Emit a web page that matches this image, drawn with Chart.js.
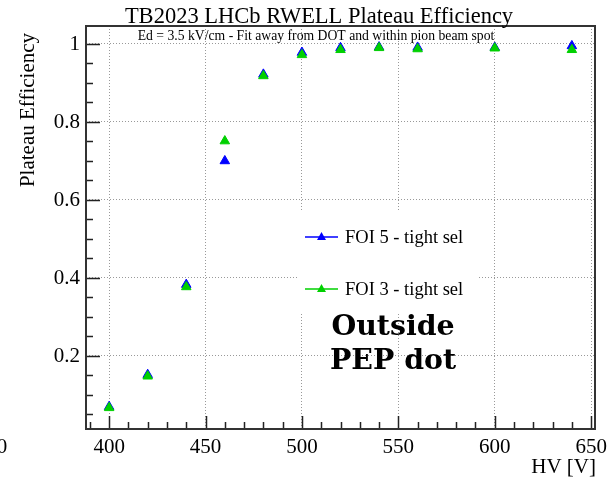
<!DOCTYPE html>
<html>
<head>
<meta charset="utf-8">
<script src="https://cdn.jsdelivr.net/npm/chart.js@4/dist/chart.umd.min.js"></script>
<style>
  html, body { margin: 0; padding: 0; background: #fff; }
  #wrap { width: 611px; height: 479px; }
</style>
</head>
<body>
<div id="wrap"><canvas id="plateau-chart" width="611" height="479"></canvas></div>
<script>
// HV scan points
const hvValues = [400, 420, 440, 460, 480, 500, 520, 540, 560, 600, 640];
const effFoi5 = [0.070, 0.152, 0.383, 0.700, 0.922, 0.978, 0.990, 0.992, 0.991, 0.991, 0.995];
const effFoi3 = [0.067, 0.148, 0.377, 0.751, 0.918, 0.972, 0.985, 0.990, 0.987, 0.989, 0.985];

const xTicks = [400, 450, 500, 550, 600, 650];
const yTicks = [0.2, 0.4, 0.6, 0.8, 1];
const yTickLabels = ['0.2', '0.4', '0.6', '0.8', '1'];

const seriesNames = ['FOI 5 - tight sel', 'FOI 3 - tight sel'];
const chartTitle = 'TB2023 LHCb RWELL Plateau Efficiency';
const subTitle = 'Ed = 3.5 kV/cm - Fit away from DOT and within pion beam spot';
const noteLines = ['Outside', 'PEP dot'];

const BLUE = '#0000ff';
const GREEN = '#00d000';
const SERIF = '"Liberation Serif", "Times New Roman", serif';

function toPoints(xs, ys) {
    return xs.map((x, i) => ({ x: x, y: ys[i] }));
}

// draws the ROOT-like frame, ticks, labels, legend and texts
const rootStyle = {
    id: 'rootStyle',
    beforeDatasetsDraw(chart) {
        const ctx = chart.ctx;
        // legend box hides the grid
        ctx.save();
        ctx.fillStyle = '#fff';
        ctx.fillRect(297, 210, 180, 103);
        ctx.restore();
    },
    afterDatasetsDraw(chart) {
        const ctx = chart.ctx;
        const a = chart.chartArea;
        const xs = chart.scales.x;
        const ys = chart.scales.y;
        ctx.save();

        // ticks
        ctx.strokeStyle = '#222';
        ctx.lineWidth = 1.5;
        ctx.beginPath();
        for (let v = 390; v <= 650; v += 10) {
            const px = Math.round(xs.getPixelForValue(v)) + 0.5;
            const len = (v % 50 === 0) ? 13 : 7;
            ctx.moveTo(px, a.bottom);
            ctx.lineTo(px, a.bottom - len);
        }
        for (let k = 1; k <= 20; k++) {
            const v = k * 0.05;
            const py = Math.round(ys.getPixelForValue(v)) + 0.5;
            const len = (k % 4 === 0) ? 14 : 7;
            ctx.moveTo(a.left, py);
            ctx.lineTo(a.left + len, py);
        }
        ctx.stroke();

        // frame
        ctx.lineWidth = 2;
        ctx.strokeStyle = '#333';
        ctx.strokeRect(a.left, a.top, a.right - a.left, a.bottom - a.top);

        // tick labels
        ctx.fillStyle = '#000';
        ctx.font = '21px ' + SERIF;
        ctx.textAlign = 'center';
        ctx.textBaseline = 'middle';
        xTicks.forEach(v => {
            ctx.fillText(String(v), xs.getPixelForValue(v), 447);
        });
        ctx.fillText('0', 2, 447);
        ctx.textAlign = 'right';
        yTicks.forEach((v, i) => {
            ctx.fillText(yTickLabels[i], 80, ys.getPixelForValue(v) + 1);
        });

        // axis titles
        ctx.textAlign = 'right';
        ctx.fillText('HV [V]', 596, 467);
        ctx.save();
        ctx.translate(28, 110);
        ctx.rotate(-Math.PI / 2);
        ctx.textAlign = 'center';
        ctx.fillText('Plateau Efficiency', 0, 0);
        ctx.restore();

        // titles
        ctx.textAlign = 'center';
        ctx.font = '22.5px ' + SERIF;
        ctx.fillText(chartTitle, 319, 17);
        ctx.font = '13.7px ' + SERIF;
        ctx.fillText(subTitle, 316, 36);

        // legend
        const legendRows = [{ y: 237, c: BLUE }, { y: 289, c: GREEN }];
        ctx.font = '18.5px ' + SERIF;
        ctx.textAlign = 'left';
        legendRows.forEach((r, i) => {
            ctx.strokeStyle = r.c;
            ctx.lineWidth = 1.5;
            ctx.beginPath();
            ctx.moveTo(305, r.y);
            ctx.lineTo(338, r.y);
            ctx.stroke();
            ctx.fillStyle = r.c;
            ctx.beginPath();
            ctx.moveTo(321.5, r.y - 5);
            ctx.lineTo(326, r.y + 3);
            ctx.lineTo(317, r.y + 3);
            ctx.closePath();
            ctx.fill();
            ctx.fillStyle = '#000';
            ctx.fillText(seriesNames[i], 345, r.y + 1);
        });

        // note
        ctx.font = 'bold 28.4px "DejaVu Serif", serif';
        ctx.textAlign = 'center';
        ctx.fillText(noteLines[0], 393, 328);
        ctx.fillText(noteLines[1], 393, 362);

        ctx.restore();
    }
};

const ctx = document.getElementById('plateau-chart').getContext('2d');
new Chart(ctx, {
    type: 'scatter',
    data: {
        datasets: [{
            label: seriesNames[0],
            data: toPoints(hvValues, effFoi5),
            pointStyle: 'triangle',
            pointRadius: 5.5,
            backgroundColor: BLUE,
            borderColor: BLUE,
            borderWidth: 1,
            order: 1
        }, {
            label: seriesNames[1],
            data: toPoints(hvValues, effFoi3),
            pointStyle: 'triangle',
            pointRadius: 5.5,
            backgroundColor: GREEN,
            borderColor: GREEN,
            borderWidth: 1,
            order: 0
        }]
    },
    options: {
        responsive: false,
        animation: false,
        devicePixelRatio: 1,
        layout: { padding: { left: 86, top: 26, right: 16, bottom: 50 } },
        plugins: {
            legend: { display: false },
            title: { display: false },
            tooltip: { enabled: false }
        },
        scales: {
            x: {
                type: 'linear',
                min: 388,
                max: 652,
                afterBuildTicks: s => { s.ticks = xTicks.map(v => ({ value: v })); },
                ticks: { display: false },
                border: { display: false, dash: [1, 2] },
                grid: { drawTicks: false, color: '#999', lineWidth: 1 }
            },
            y: {
                type: 'linear',
                min: 0.0128,
                max: 1.046,
                afterBuildTicks: s => { s.ticks = yTicks.map(v => ({ value: v })); },
                ticks: { display: false },
                border: { display: false, dash: [1, 2] },
                grid: { drawTicks: false, color: '#999', lineWidth: 1 }
            }
        }
    },
    plugins: [rootStyle]
});
</script>
</body>
</html>
